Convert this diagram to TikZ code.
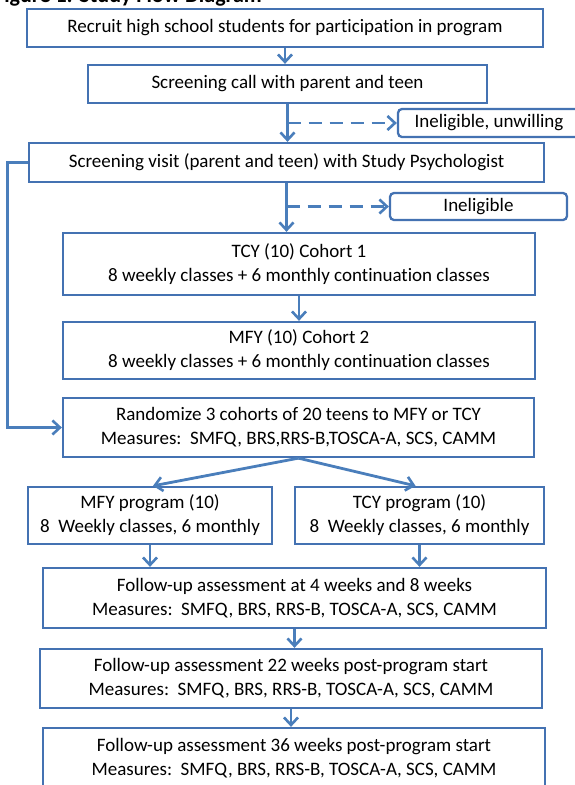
\documentclass[tikz,border=0pt]{standalone}
\usepackage{fontspec}
\setmainfont{Carlito}[Ligatures=NoCommon]
\usetikzlibrary{arrows.meta}
\definecolor{bc}{RGB}{68,114,178}
\definecolor{ac}{RGB}{74,126,187}
\begin{document}
\begin{tikzpicture}[x=1pt,y=-1pt,
  box/.style={draw=bc, line width=2.3pt, fill=white, inner sep=0pt, align=center,
     font=\fontsize{19}{24}\selectfont},
  rbox/.style={box, rounded corners=4pt},
  arr/.style={draw=ac, line width=2.8pt, -{Straight Barb[length=7.5pt,width=14pt,line width=2.6pt]}},
  darr/.style={arr, dash pattern=on 13pt off 8pt}]
\useasboundingbox (0,0) rectangle (575,785);
\node[anchor=base west, font=\fontsize{22}{24}\selectfont\bfseries, inner sep=0pt] (title) at (-6,2.5) {Figure 1: Study Flow Diagram};

\node[box, minimum width=516pt, minimum height=38pt] (b1) at (285,28) {Recruit high school students for participation in program};
\node[box, minimum width=399pt, minimum height=38pt] (b2) at (287.5,84) {Screening call with parent and teen};
\node[rbox, minimum width=182pt, minimum height=28pt] (ine1) at (489,123) {Ineligible, unwilling};
\node[box, minimum width=515pt, minimum height=39pt] (b3) at (286.5,162.5) {Screening visit (parent and teen) with Study Psychologist};
\node[rbox, minimum width=177pt, minimum height=27pt] (ine2) at (478.5,206.5) {Ineligible};
\node[box, minimum width=472pt, minimum height=62pt] (b4) at (299,264) {TCY (10) Cohort 1\\8 weekly classes + 6 monthly continuation classes};
\node[box, minimum width=472pt, minimum height=57pt] (b5) at (299,350.5) {MFY (10) Cohort 2\\8 weekly classes + 6 monthly continuation classes};
\node[box, minimum width=471pt, minimum height=59pt] (b6) at (298.5,427.5) {Randomize 3 cohorts of 20 teens to MFY or TCY\\Measures:~~SMFQ, BRS,RRS-B,TOSCA-A, SCS, CAMM};
\node[box, minimum width=244pt, minimum height=57pt] (mfy) at (150,515.5) {MFY program (10)\\8~~Weekly classes, 6 monthly};
\node[box, minimum width=249pt, minimum height=57pt] (tcy) at (419.5,515.5) {TCY program (10)\\8~~Weekly classes, 6 monthly};
\node[box, minimum width=503pt, minimum height=60pt] (f1) at (294.5,598) {Follow-up assessment at 4 weeks and 8 weeks\\Measures:~~SMFQ, BRS, RRS-B, TOSCA-A, SCS, CAMM};
\node[box, minimum width=502pt, minimum height=59pt] (f2) at (291,678.5) {Follow-up assessment 22 weeks post-program start\\Measures:~~SMFQ, BRS, RRS-B, TOSCA-A, SCS, CAMM};
\node[box, minimum width=502pt, minimum height=60pt] (f3) at (294,758) {Follow-up assessment 36 weeks post-program start\\Measures:~~SMFQ, BRS, RRS-B, TOSCA-A, SCS, CAMM};

\draw[arr] (b1.south) -- (b1.south |- b2.north);
\draw[arr] (b2.south) -- (b2.south |- b3.north);
\coordinate (d1) at (b2.south |- ine1.west);
\draw[darr] (d1) -- (ine1.west);
\draw[arr] (b3.south) -- (b3.south |- b4.north);
\coordinate (d2) at (b3.south |- ine2.west);
\draw[darr] (d2) -- (ine2.west);
\draw[arr] (b4.south) -- (b5.north);
\draw[arr] (b3.west) -- ++(-20,0) |- (b6.west);
\draw[arr] (b6.south) -- ([xshift=3pt]mfy.north);
\draw[arr] (b6.south) -- ([xshift=-4pt]tcy.north);
\draw[arr] (mfy.south) -- (mfy.south |- f1.north);
\draw[arr] (tcy.south) -- (tcy.south |- f1.north);
\draw[arr] (f1.south) -- (f1.south |- f2.north);
\draw[arr] (f2.south) -- (f2.south |- f3.north);
\end{tikzpicture}
\end{document}
